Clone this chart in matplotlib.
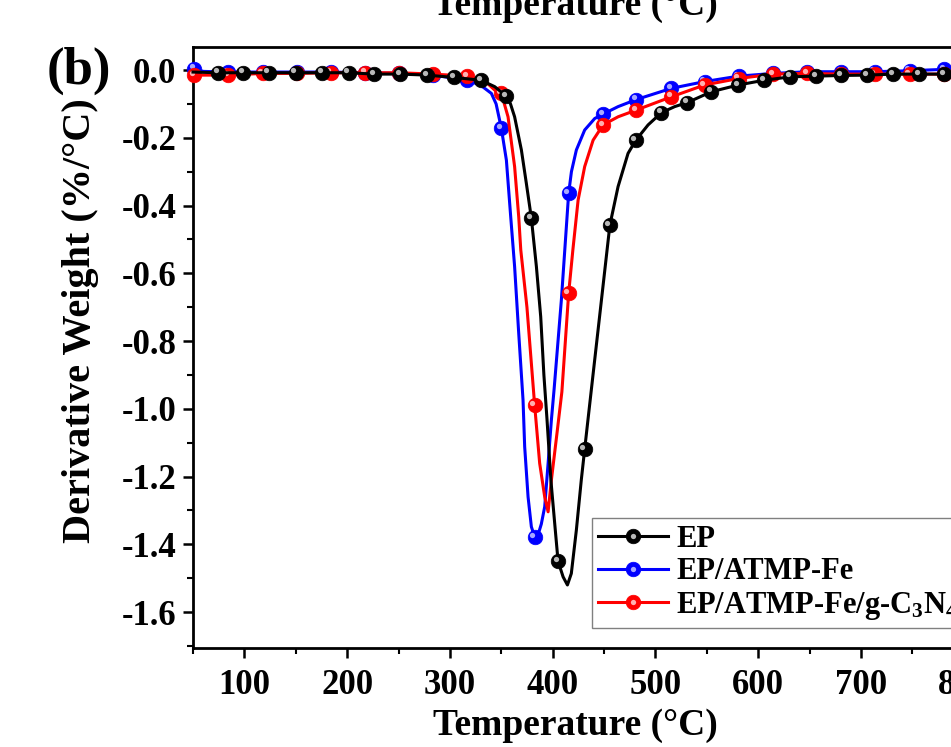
import numpy as np
import matplotlib
matplotlib.use("Agg")
import matplotlib.pyplot as plt
from matplotlib.transforms import offset_copy
from matplotlib.legend_handler import HandlerTuple

plt.rcParams['font.family'] = ['Liberation Serif', 'DejaVu Serif']
plt.rcParams['font.weight'] = 'bold'
plt.rcParams['axes.unicode_minus'] = False
plt.rcParams['mathtext.fontset'] = 'custom'
plt.rcParams['mathtext.rm'] = 'Liberation Serif:bold'
plt.rcParams['mathtext.bf'] = 'Liberation Serif:bold'
plt.rcParams['mathtext.default'] = 'rm'

# -----------------------
# Data (temperature in C, derivative weight in %/C)
# -----------------------
t_ep = [50, 74.4, 98.7, 123.6, 149.9, 175.9, 201.5, 226.2, 251.8, 278.1, 304.1,
        330.2, 343.6, 355.0, 359.0, 363.0, 369.6, 374.4, 379.3, 384.2, 388.4,
        391.5, 394.5, 398.3, 402.6, 405.3, 410.2, 414.4, 418.2, 423.1, 427.9,
        431.2, 435.0, 439.0, 444.2, 450.7, 455.7, 463.7, 473.4, 481.0, 492.9,
        505.8, 518.8, 531.1, 554.5, 580.8, 606.1, 631.4, 656.7, 681.1, 706.4,
        731.6, 756.9, 781.3, 806.5, 831.8, 850]
d_ep = [-0.006, -0.008, -0.008, -0.008, -0.008, -0.008, -0.008, -0.012, -0.012,
        -0.015, -0.022, -0.030, -0.049, -0.077, -0.100, -0.138, -0.236, -0.334,
        -0.437, -0.580, -0.728, -0.900, -1.030, -1.210, -1.358, -1.450, -1.496,
        -1.520, -1.486, -1.358, -1.210, -1.119, -1.016, -0.908, -0.768, -0.593,
        -0.458, -0.344, -0.246, -0.207, -0.162, -0.126, -0.108, -0.096, -0.064,
        -0.044, -0.030, -0.020, -0.018, -0.016, -0.015, -0.012, -0.012, -0.012,
        -0.012, -0.012, -0.012]
mk_ep = [74.4, 98.7, 123.6, 149.9, 175.9, 201.5, 226.2, 251.8, 278.1, 304.1,
         330.2, 355.0, 379.3, 405.3, 431.2, 455.7, 481.0, 505.8, 531.1, 554.5,
         580.8, 606.1, 631.4, 656.7, 681.1, 706.4, 731.6, 756.9, 781.3, 806.5,
         831.8]

t_fe = [51.3, 60, 84.5, 117.7, 150.9, 184.1, 217.3, 250.5, 283.7, 316.9, 330,
        340.4, 345, 350.1, 355, 359.2, 363, 367, 371.2, 372.8, 376.1, 379.3,
        382.5, 385.5, 389, 392.3, 395.6, 398.8, 401.5, 408.5, 415.6, 418.3,
        423.1, 431.2, 441, 449.1, 463.7, 481.5, 515.6, 548.0, 581.0, 614.5,
        647.9, 681.0, 713.4, 747.5, 781.0, 814.2, 847.4]
d_fe = [0.004, -0.004, -0.006, -0.006, -0.006, -0.006, -0.008, -0.010, -0.015,
        -0.030, -0.045, -0.069, -0.100, -0.172, -0.266, -0.433, -0.580, -0.777,
        -0.974, -1.112, -1.260, -1.348, -1.378, -1.375, -1.340, -1.289, -1.161,
        -1.033, -0.940, -0.679, -0.364, -0.300, -0.236, -0.177, -0.143, -0.130,
        -0.108, -0.087, -0.054, -0.034, -0.018, -0.010, -0.005, -0.005, -0.005,
        -0.002, 0.002, 0.0, 0.0]
mk_fe = [51.3, 84.5, 117.7, 150.9, 184.1, 217.3, 250.5, 283.7, 316.9, 350.1,
         382.5, 415.6, 449.1, 481.5, 515.6, 548.0, 581.0, 614.5, 647.9, 681.0,
         713.4, 747.5, 781.0, 814.2, 847.4]

t_cn = [51.3, 84.5, 117.7, 150.9, 184.1, 217.3, 250.5, 283.7, 316.9, 335,
        343.6, 350.1, 356.6, 363, 367, 369, 375, 382.5, 387.4, 392.3, 395.6,
        398.8, 404.6, 409, 415.6, 419.7, 424.8, 431.2, 439.4, 449.1, 463.7,
        481.5, 515.6, 548.0, 581.0, 614.5, 647.9, 681.0, 713.4, 747.5, 781.0,
        814.2, 847.4]
d_cn = [-0.015, -0.015, -0.010, -0.010, -0.008, -0.008, -0.008, -0.012, -0.018,
        -0.035, -0.059, -0.069, -0.138, -0.285, -0.433, -0.531, -0.700, -0.989,
        -1.161, -1.260, -1.304, -1.210, -1.063, -0.950, -0.659, -0.531, -0.384,
        -0.285, -0.207, -0.162, -0.138, -0.118, -0.079, -0.044, -0.025, -0.012,
        -0.010, -0.012, -0.012, -0.012, -0.012, -0.012, -0.012]
mk_cn = mk_fe

LAB_EP = 'EP'
LAB_FE = 'EP/ATMP-Fe'
LAB_CN = 'EP/ATMP-Fe/g-C$_\\mathrm{3}$N$_\\mathrm{4}$'

series = [
    (LAB_FE, t_fe, d_fe, mk_fe, '#0000FF', '#a8a8ff'),
    (LAB_CN, t_cn, d_cn, mk_cn, '#FF0000', '#ffb0b0'),
    (LAB_EP, t_ep, d_ep, mk_ep, '#000000', '#b8b8b8'),
]

W, H = 951, 747
fig = plt.figure(figsize=(W / 100, H / 100), dpi=100)
x0, x1 = 50, 850
ax_w = 800 * 1.0275
ax = fig.add_axes([193 / W, (H - 648) / H, ax_w / W, 601 / H])

hl_tr = offset_copy(ax.transData, fig=fig, x=-1.7, y=1.7, units='points')
handles = {}
for i, (lab, t, d, mk, col, hcol) in enumerate(series):
    t = np.array(t)
    d = np.array(d)
    idx = np.where(np.isin(t, mk))[0]
    ln, = ax.plot(t, d, color=col, lw=2.2, marker='o', markersize=10.5,
                  markevery=list(idx), markerfacecolor=col, markeredgecolor=col,
                  markeredgewidth=0.5, zorder=3 + i, clip_on=False)
    ax.plot(t[idx], d[idx], ls='none', marker='o', markersize=3.8,
            color=hcol, markeredgewidth=0, transform=hl_tr, zorder=3.5 + i,
            clip_on=False)
    hl = ax.plot([], [], ls='none', marker='o', markersize=3.8,
                 color=hcol, markeredgewidth=0)[0]
    handles[lab] = (ln, hl)

ax.set_xlim(x0, x1)
ax.set_ylim(-1.706, 0.068)
ax.set_xticks(np.arange(100, 851, 100))
ax.set_xticks(np.arange(50, 851, 50), minor=True)
ax.set_yticks(np.arange(-1.6, 0.01, 0.2))
ax.set_yticks(np.arange(-1.7, 0.05, 0.1), minor=True)
ax.yaxis.set_major_formatter(plt.FuncFormatter(lambda v, p: f'{v:.1f}' if abs(v) > 1e-9 else '0.0'))

for s in ax.spines.values():
    s.set_linewidth(2.0)
ax.tick_params(axis='x', which='major', pad=8)
ax.tick_params(axis='y', which='major', pad=5)
ax.tick_params(which='major', direction='out', length=7, width=1.8, labelsize=25)
ax.tick_params(which='minor', direction='out', length=4, width=1.5)
ax.tick_params(top=False, right=False)

ax.set_xlabel('Temperature (°C)', fontsize=27, fontweight='bold')
ax.xaxis.set_label_coords((575 - 193) / ax_w, -0.100)
ax.set_ylabel('Derivative Weight (%/°C)', fontsize=29, fontweight='bold')
ax.yaxis.set_label_coords(-(193 - 99) / ax_w, (648 - 321) / 601)

# top label belongs to the panel above (cut off)
fig.text(575 / W, 1 - 15 / H, 'Temperature (°C)', fontsize=27, fontweight='bold',
         ha='center', va='baseline')
fig.text(79 / W, 1 - 71 / H, '(b)', fontsize=38, fontweight='bold',
         ha='center', va='center')

order = [LAB_EP, LAB_FE, LAB_CN]
leg = ax.legend([handles[k] for k in order], order,
                handler_map={tuple: HandlerTuple(ndivide=1)},
                loc='lower left', bbox_to_anchor=((592 - 193) / ax_w, (648 - 628) / 601),
                borderaxespad=0, fontsize=22, handlelength=2.3, handletextpad=0.25,
                labelspacing=0.12, borderpad=0.2, fancybox=False, framealpha=1,
                edgecolor='#808080')
leg.get_frame().set_linewidth(1.0)
leg.set_zorder(10)

fig.savefig('out.png', dpi=100)
